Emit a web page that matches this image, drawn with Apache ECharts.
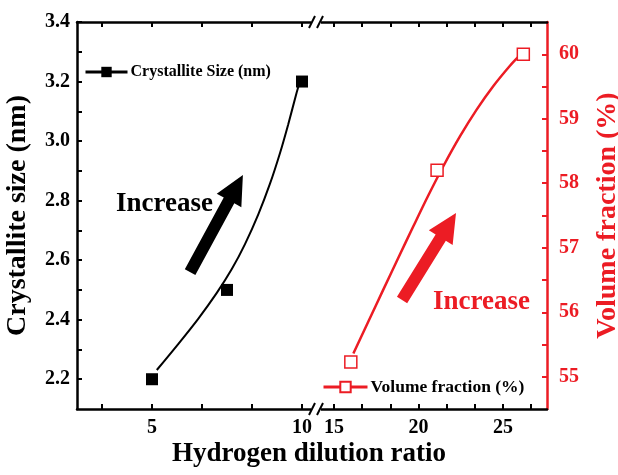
<!DOCTYPE html>
<html>
<head>
<meta charset="utf-8">
<script src="https://cdn.jsdelivr.net/npm/echarts@6/dist/echarts.min.js"></script>
<style>
  html, body { margin: 0; padding: 0; background: #fff; }
  #chart { width: 618px; height: 475px; }
</style>
</head>
<body>
<div id="chart"></div>
<script>
// crystallite size (left part of broken axis)
var sizeX = [5, 7.5, 10];
var sizeY = [2.2, 2.5, 3.2];
var sizeFitX = [5.16, 5.88, 6.54, 7.16, 7.66, 8.1, 8.54, 8.93, 9.27, 9.54, 9.82, 9.93];
var sizeFitY = [2.231, 2.319, 2.403, 2.49, 2.57, 2.654, 2.753, 2.856, 2.961, 3.056, 3.162, 3.2];

// volume fraction (right part of broken axis)
var volX = [16, 21.1, 26.2];
var volY = [55.23, 58.2, 60];
var volFitX = [16.15, 17.03, 17.92, 18.81, 19.69, 20.58, 21.47, 22.46, 23.44, 24.43, 25.41, 25.9];
var volFitY = [55.36, 55.853, 56.351, 56.845, 57.329, 57.81, 58.264, 58.729, 59.141, 59.507, 59.821, 59.958];

// ticks
var leftXTicks = [10 / 3, 5, 20 / 3, 25 / 3, 10];
var leftXLabels = [5, 10];
var rightXTicks = [15, 50 / 3, 55 / 3, 20, 65 / 3, 70 / 3, 25, 80 / 3];
var rightXLabels = [15, 20, 25];
var sizeTicks = [2.2, 2.3, 2.4, 2.5, 2.6, 2.7, 2.8, 2.9, 3.0, 3.1, 3.2, 3.3, 3.4];
var sizeLabels = [2.2, 2.4, 2.6, 2.8, 3.0, 3.2, 3.4];
var volTicks = [55, 55.5, 56, 56.5, 57, 57.5, 58, 58.5, 59, 59.5, 60];
var volLabels = [55, 56, 57, 58, 59, 60];

// arrow annotations [tailX, tailY, tipX, tipY] in data units
var sizeArrow = [6.27, 2.56, 8.03, 2.886];
var volArrow = [19.03, 56.19, 22.22, 57.54];

var RED = '#ec1c24';
var FONT = 'Liberation Serif';

function pairs(xs, ys) {
    var out = [];
    for (var i = 0; i < xs.length; i++) out.push([xs[i], ys[i]]);
    return out;
}

function xAxisOpt(grid, pos, min, max, ticks, labels) {
    return {
        type: 'value', gridIndex: grid, position: pos, min: min, max: max,
        axisLine: { show: true, onZero: false, lineStyle: { color: '#000', width: 2.5 } },
        axisTick: { show: true, inside: true, length: 5, customValues: ticks, lineStyle: { color: '#000', width: 2 } },
        axisLabel: {
            show: pos === 'bottom', customValues: labels, margin: 9,
            color: '#000', fontFamily: FONT, fontWeight: 'bold', fontSize: 20
        },
        splitLine: { show: false }
    };
}

var chart = echarts.init(document.getElementById('chart'));

var option = {
    backgroundColor: '#fff',
    animation: false,
    grid: [
        { left: 77, top: 22, width: 240, height: 387, containLabel: false, outerBoundsMode: 'none' },
        { left: 317, top: 22, width: 230, height: 387, containLabel: false, outerBoundsMode: 'none' }
    ],
    xAxis: [
        xAxisOpt(0, 'bottom', 2.5, 10.5, leftXTicks, leftXLabels),
        xAxisOpt(1, 'bottom', 14, 27.6, rightXTicks, rightXLabels),
        xAxisOpt(0, 'top', 2.5, 10.5, leftXTicks, leftXLabels),
        xAxisOpt(1, 'top', 14, 27.6, rightXTicks, rightXLabels)
    ],
    yAxis: [
        {
            type: 'value', gridIndex: 0, position: 'left', min: 2.1, max: 3.4,
            name: 'Crystallite size (nm)', nameLocation: 'middle', nameRotate: 90, nameGap: 45,
            nameTextStyle: { color: '#000', fontFamily: FONT, fontWeight: 'bold', fontSize: 28 },
            axisLine: { show: true, lineStyle: { color: '#000', width: 2.5 } },
            axisTick: { show: true, inside: true, length: 5, customValues: sizeTicks, lineStyle: { color: '#000', width: 2 } },
            axisLabel: {
                customValues: sizeLabels, margin: 7,
                formatter: function (v) { return v.toFixed(1); },
                color: '#000', fontFamily: FONT, fontWeight: 'bold', fontSize: 20
            },
            splitLine: { show: false }
        },
        {
            type: 'value', gridIndex: 1, position: 'right', min: 54.5, max: 60.5,
            name: 'Volume fraction (%)', nameLocation: 'middle', nameRotate: 90, nameGap: 47,
            nameTextStyle: { color: RED, fontFamily: FONT, fontWeight: 'bold', fontSize: 28 },
            axisLine: { show: true, lineStyle: { color: RED, width: 2.5 } },
            axisTick: { show: true, inside: true, length: 5, customValues: volTicks, lineStyle: { color: RED, width: 2 } },
            axisLabel: {
                customValues: volLabels, margin: 12,
                color: RED, fontFamily: FONT, fontWeight: 'bold', fontSize: 20
            },
            splitLine: { show: false }
        }
    ],
    legend: [
        {
            data: ['Crystallite Size (nm)'], left: 84, top: 64, padding: 0,
            itemWidth: 42, itemHeight: 13, itemGap: 4,
            lineStyle: { opacity: 1, width: 3, color: '#000' },
            textStyle: { color: '#000', fontFamily: FONT, fontWeight: 'bold', fontSize: 16, padding: [0, 0, 0, -2] }
        },
        {
            data: ['Volume fraction (%)'], left: 322, top: 378, padding: 0,
            itemWidth: 44, itemHeight: 13, itemGap: 4,
            lineStyle: { opacity: 1, width: 3, color: RED },
            textStyle: { color: '#000', fontFamily: FONT, fontWeight: 'bold', fontSize: 17.5, padding: [0, 0, 0, -2] }
        }
    ],
    series: [
        {
            name: 'sizeFit', type: 'line', xAxisIndex: 0, yAxisIndex: 0, smooth: 0.3,
            showSymbol: false, silent: true, z: 2,
            lineStyle: { color: '#000', width: 2 },
            data: pairs(sizeFitX, sizeFitY)
        },
        {
            name: 'Crystallite Size (nm)', type: 'line', xAxisIndex: 0, yAxisIndex: 0,
            symbol: 'rect', symbolSize: 12, z: 3,
            itemStyle: { color: '#000' },
            lineStyle: { color: '#000', width: 0, opacity: 0 },
            data: pairs(sizeX, sizeY)
        },
        {
            name: 'volFit', type: 'line', xAxisIndex: 1, yAxisIndex: 1, smooth: 0.3,
            showSymbol: false, silent: true, z: 2,
            lineStyle: { color: RED, width: 2.5 },
            data: pairs(volFitX, volFitY)
        },
        {
            name: 'Volume fraction (%)', type: 'line', xAxisIndex: 1, yAxisIndex: 1,
            symbol: 'rect', symbolSize: 12, z: 3,
            itemStyle: { color: '#fff', borderColor: RED, borderWidth: 1.5 },
            lineStyle: { color: RED, width: 0, opacity: 0 },
            data: pairs(volX, volY)
        }
    ]
};

chart.setOption(option);

function arrowPoints(p0, p1, shaft, head, headLen) {
    var dx = p1[0] - p0[0], dy = p1[1] - p0[1];
    var len = Math.sqrt(dx * dx + dy * dy);
    var ux = dx / len, uy = dy / len;
    var nx = -uy, ny = ux;
    var bx = p1[0] - ux * headLen, by = p1[1] - uy * headLen;
    return [
        [p0[0] + nx * shaft / 2, p0[1] + ny * shaft / 2],
        [bx + nx * shaft / 2, by + ny * shaft / 2],
        [bx + nx * head / 2, by + ny * head / 2],
        [p1[0], p1[1]],
        [bx - nx * head / 2, by - ny * head / 2],
        [bx - nx * shaft / 2, by - ny * shaft / 2],
        [p0[0] - nx * shaft / 2, p0[1] - ny * shaft / 2]
    ];
}

function arrowGraphic(arr, gridSel, color) {
    var a = chart.convertToPixel(gridSel, [arr[0], arr[1]]);
    var b = chart.convertToPixel(gridSel, [arr[2], arr[3]]);
    return {
        type: 'polygon', z: 10,
        shape: { points: arrowPoints(a, b, 12, 28, 29) },
        style: { fill: color }
    };
}

function slash(cx, cy) {
    return {
        type: 'line', z: 20,
        shape: { x1: cx - 3, y1: cy + 6, x2: cx + 3, y2: cy - 6 },
        style: { stroke: '#000', lineWidth: 2 }
    };
}

var graphics = [
    arrowGraphic(sizeArrow, { xAxisIndex: 0, yAxisIndex: 0 }, '#000'),
    arrowGraphic(volArrow, { xAxisIndex: 1, yAxisIndex: 1 }, RED),
    {
        type: 'text', left: 116, top: 191, z: 10,
        style: { text: 'Increase', fill: '#000', font: 'bold 27px "Liberation Serif"' }
    },
    {
        type: 'text', left: 433, top: 289, z: 10,
        style: { text: 'Increase', fill: RED, font: 'bold 27px "Liberation Serif"' }
    },
    {
        type: 'text', left: 'center', top: 441, z: 10,
        style: { text: 'Hydrogen dilution ratio', fill: '#000', font: 'bold 27px "Liberation Serif"' }
    },
    { type: 'rect', z: 19, shape: { x: 311, y: 18, width: 10, height: 8 }, style: { fill: '#fff' } },
    { type: 'rect', z: 19, shape: { x: 311, y: 405, width: 10, height: 8 }, style: { fill: '#fff' } },
    slash(312, 22), slash(320, 22),
    slash(312, 409), slash(320, 409)
];

chart.setOption({ graphic: graphics });
</script>
</body>
</html>
